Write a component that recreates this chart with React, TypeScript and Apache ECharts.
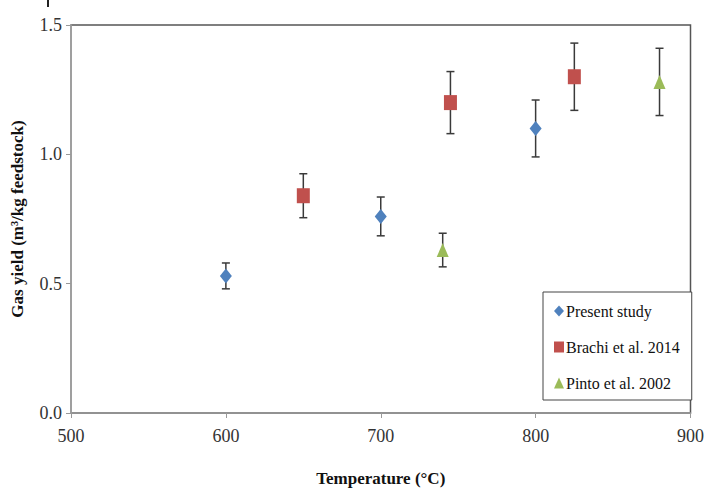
import React, { useEffect, useRef } from "react";
import * as echarts from "echarts";

const seriesNames = ["Present study", "Brachi et al. 2014", "Pinto et al. 2002"];
const presentX = [600, 700, 800];
const presentY = [0.53, 0.76, 1.1];
const presentErr = [0.05, 0.075, 0.11];
const brachiX = [650, 745, 825];
const brachiY = [0.84, 1.2, 1.3];
const brachiErr = [0.085, 0.12, 0.13];
const pintoX = [740, 880];
const pintoY = [0.63, 1.28];
const pintoErr = [0.065, 0.13];

const xTicks = { min: 500, max: 900, interval: 100 };
const yTicks = { min: 0, max: 1.5, interval: 0.5 };

const serif = "Liberation Serif";

function points(xs: number[], ys: number[]) {
  return xs.map((x, i) => [x, ys[i]]);
}
function errData(xs: number[], ys: number[], es: number[]) {
  return xs.map((x, i) => [x, ys[i] - es[i], ys[i] + es[i]]);
}

export default function App() {
  const ref = useRef<HTMLDivElement>(null);
  useEffect(() => {
    if (!ref.current) return;
    const chart = echarts.init(ref.current, null, { renderer: "svg" });
    const errorSeries = (name: string, data: number[][]) => ({
      type: "custom",
      name,
      z: 1,
      renderItem: (_params: any, api: any) => {
        const x = api.value(0);
        const lo = api.coord([x, api.value(1)]);
        const hi = api.coord([x, api.value(2)]);
        const cap = 4;
        const style = { stroke: "#3a3a3a", lineWidth: 1.5 };
        return {
          type: "group",
          children: [
            { type: "line", shape: { x1: lo[0], y1: lo[1], x2: hi[0], y2: hi[1] }, style },
            { type: "line", shape: { x1: lo[0] - cap, y1: lo[1], x2: lo[0] + cap, y2: lo[1] }, style },
            { type: "line", shape: { x1: hi[0] - cap, y1: hi[1], x2: hi[0] + cap, y2: hi[1] }, style },
          ],
        };
      },
      data,
    });
    chart.setOption({
      animation: false,
      backgroundColor: "#ffffff",
      grid: {
        left: 71,
        right: 13,
        top: 25,
        bottom: 80,
        show: true,
        borderColor: "#555",
        borderWidth: 1.5,
      },
      legend: {
        data: seriesNames,
        orient: "vertical",
        left: 543,
        top: 292,
        width: 147,
        padding: [11, 12, 9, 11],
        itemGap: 20,
        itemWidth: 10,
        itemHeight: 11,
        borderColor: "#444",
        borderWidth: 1,
        backgroundColor: "#fff",
        textStyle: { fontFamily: serif, fontSize: 16, color: "#111", padding: [0, 0, 0, -3] },
      },
      xAxis: {
        type: "value",
        min: xTicks.min,
        max: xTicks.max,
        interval: xTicks.interval,
        name: "Temperature (\u00B0C)",
        nameLocation: "middle",
        nameGap: 57,
        nameTextStyle: { fontFamily: serif, fontSize: 17, fontWeight: "bold", color: "#111" },
        axisLine: { lineStyle: { color: "#999", width: 1.5 } },
        axisTick: { show: true, length: 5, lineStyle: { color: "#999" } },
        axisLabel: { fontFamily: serif, fontSize: 18, color: "#333", margin: 14 },
        splitLine: { show: false },
      },
      yAxis: {
        type: "value",
        min: yTicks.min,
        max: yTicks.max,
        interval: yTicks.interval,
        name: "Gas yield (m\u00B3/kg feedstock)",
        nameLocation: "middle",
        nameGap: 45,
        nameTextStyle: { fontFamily: serif, fontSize: 17, fontWeight: "bold", color: "#111" },
        axisLine: { show: true, lineStyle: { color: "#aaa", width: 1.5 } },
        axisTick: { show: true, length: 5, lineStyle: { color: "#999" } },
        axisLabel: {
          fontFamily: serif,
          fontSize: 18,
          color: "#333",
          margin: 9,
          formatter: (v: number) => v.toFixed(1),
        },
        splitLine: { show: false },
      },
      series: [
        errorSeries("err-present", errData(presentX, presentY, presentErr)),
        errorSeries("err-brachi", errData(brachiX, brachiY, brachiErr)),
        errorSeries("err-pinto", errData(pintoX, pintoY, pintoErr)),
        {
          type: "scatter",
          name: seriesNames[0],
          symbol: "diamond",
          symbolSize: [12, 15],
          itemStyle: { color: "#4f81bd", opacity: 1 },
          z: 3,
          data: points(presentX, presentY),
        },
        {
          type: "scatter",
          name: seriesNames[1],
          symbol: "rect",
          symbolSize: [13, 15],
          itemStyle: { color: "#c0504d", opacity: 1 },
          z: 3,
          data: points(brachiX, brachiY),
        },
        {
          type: "scatter",
          name: seriesNames[2],
          symbol: "triangle",
          symbolSize: [12, 14],
          itemStyle: { color: "#9bbb59", opacity: 1 },
          z: 3,
          data: points(pintoX, pintoY),
        },
      ],
      graphic: [
        { type: "line", shape: { x1: 48, y1: 0, x2: 48, y2: 7 }, style: { stroke: "#222", lineWidth: 2 } },
      ],
    });
    return () => chart.dispose();
  }, []);
  return <div ref={ref} style={{ width: 707, height: 493, position: "absolute", left: 0, top: 0 }} />;
}
